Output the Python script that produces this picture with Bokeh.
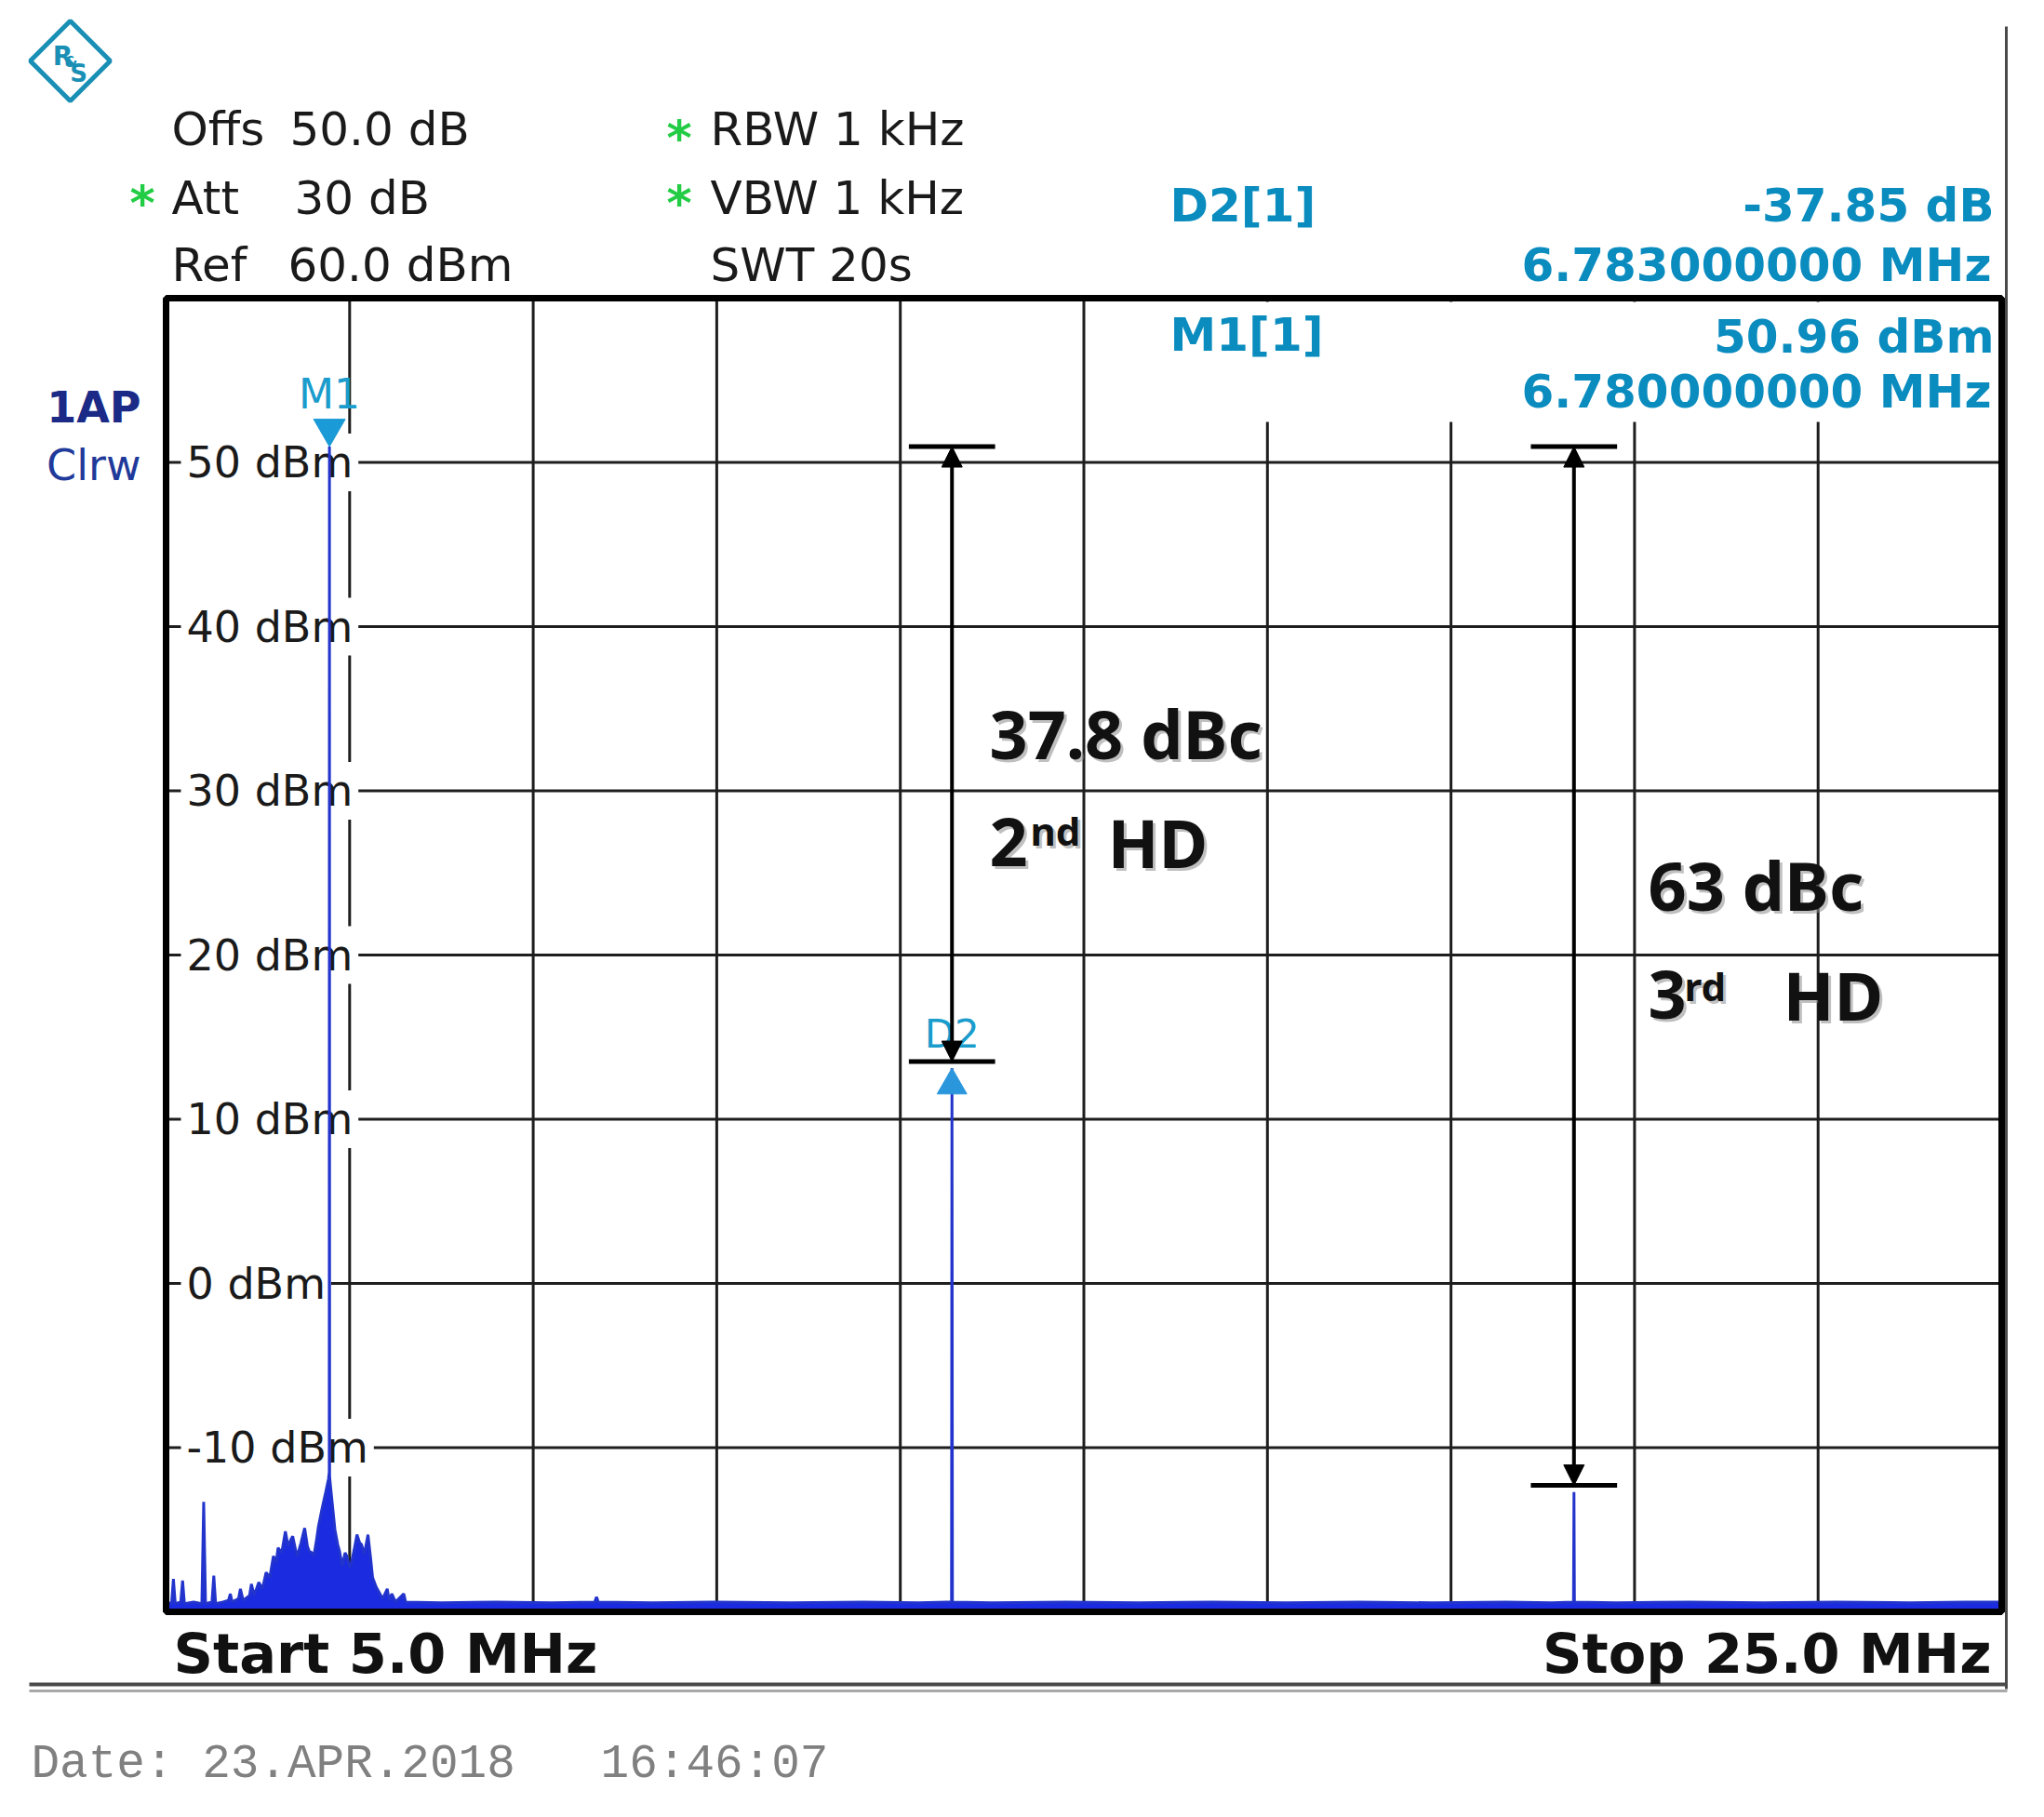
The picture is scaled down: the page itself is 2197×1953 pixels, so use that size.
import numpy as np
from bokeh.plotting import figure
from bokeh.models import Range1d, Arrow, NormalHead
from bokeh.core.properties import value
from bokeh.embed import file_html
from bokeh.resources import INLINE

# ---------------- data ----------------
trace_freq_mhz = [
    5.00, 5.06, 5.08, 5.10, 5.16, 5.18, 5.20, 5.30, 5.39, 5.41,
    5.43, 5.50, 5.52, 5.54, 5.62, 5.68, 5.70, 5.72, 5.79, 5.81,
    5.84, 5.91, 5.93, 5.96, 6.01, 6.05, 6.09, 6.13, 6.17, 6.20,
    6.22, 6.26, 6.30, 6.33, 6.36, 6.38, 6.41, 6.43, 6.47, 6.51,
    6.54, 6.56, 6.59, 6.61, 6.64, 6.66, 6.70, 6.74, 6.77, 6.778,
    6.780, 6.782, 6.80, 6.84, 6.87, 6.89, 6.92, 6.95, 6.97, 7.00,
    7.02, 7.05, 7.08, 7.11, 7.13, 7.16, 7.20, 7.23, 7.25, 7.29,
    7.33, 7.36, 7.41, 7.43, 7.46, 7.50, 7.59, 7.61, 8.00, 8.60,
    9.20, 9.67, 9.69, 9.71, 10.30, 11.00, 11.80, 12.60, 13.20, 13.558,
    13.563, 13.568, 14.00, 14.80, 15.60, 16.40, 17.20, 18.00, 18.80, 19.60,
    20.10, 20.335, 20.340, 20.345, 20.80, 21.60, 22.40, 23.20, 24.00, 24.60,
    25.00,
]
trace_level_dbm = [
    -19.4, -19.5, -18.0, -19.5, -19.4, -18.1, -19.5, -19.4, -19.5, -13.3,
    -19.5, -19.4, -17.8, -19.5, -19.4, -19.3, -18.9, -19.4, -19.2, -18.6,
    -19.3, -19.0, -18.3, -19.0, -18.2, -18.6, -17.6, -17.9, -16.6, -17.0,
    -16.1, -16.4, -15.1, -16.0, -15.6, -15.4, -16.2, -16.6, -15.8, -14.9,
    -16.0, -16.3, -16.4, -16.6, -15.6, -14.8, -13.7, -12.7, -11.9, -11.5,
    50.96, -11.8, -12.8, -15.0, -15.9, -16.3, -17.2, -16.4, -16.6, -17.3,
    -17.0, -16.2, -15.3, -15.8, -15.9, -16.5, -15.3, -16.8, -17.9, -18.5,
    -18.9, -19.2, -18.6, -19.3, -18.9, -19.4, -18.9, -19.4, -19.45, -19.4,
    -19.45, -19.4, -19.1, -19.4, -19.45, -19.4, -19.45, -19.4, -19.45, -19.4,
    13.11, -19.4, -19.45, -19.4, -19.45, -19.4, -19.45, -19.4, -19.45, -19.4,
    -19.45, -19.4, -12.7, -19.4, -19.45, -19.4, -19.45, -19.4, -19.45, -19.4,
    -19.4,
]
y_tick_values = [50, 40, 30, 20, 10, 0, -10]
y_tick_labels = ["50 dBm", "40 dBm", "30 dBm", "20 dBm", "10 dBm", "0 dBm", "-10 dBm"]
x_grid_mhz = [7, 9, 11, 13, 15, 17, 19, 21, 23]

start_mhz, stop_mhz = 5.0, 25.0
ref_level_dbm, bottom_level_dbm = 60.0, -20.0

m1_freq_mhz, m1_level_dbm = 6.78, 50.96
d2_delta_freq_mhz, d2_delta_db = 6.783, -37.85
hd3_freq_mhz, hd3_level_dbm = 20.34, -12.7
hd_labels = ["37.8 dBc", "63 dBc"]
hd_names = [("2", "nd"), ("3", "rd")]

header_left = [("Offs", "50.0 dB"), ("Att", "30 dB"), ("Ref", "60.0 dBm")]
header_mid = ["RBW 1 kHz", "VBW 1 kHz", "SWT 20s"]
date_text = "Date: 23.APR.2018\u00a0\u00a0\u00a016:46:07"

# ---------------- layout (screenshot pixels) ----------------
W, H = 2181, 1937
FL, FR, FT, FB = 178, 2151, 320, 1732

p = figure(width=W, height=H,
           x_range=Range1d(0, W), y_range=Range1d(H, 0),
           x_axis_location=None, y_axis_location=None,
           toolbar_location=None, output_backend="svg",
           min_border=0, outline_line_color=None,
           background_fill_color="white", border_fill_color="white")
p.grid.visible = False

sx = (stop_mhz - start_mhz) / (FR - FL)
sy = (ref_level_dbm - bottom_level_dbm) / (FB - FT)
p.extra_x_ranges = {"f": Range1d(start_mhz - FL * sx, stop_mhz + (W - FR) * sx)}
p.extra_y_ranges = {"d": Range1d(bottom_level_dbm - (H - FB) * sy, ref_level_dbm + FT * sy)}
D = dict(x_range_name="f", y_range_name="d")


def T(x, y, s, size, color="#1a1a1a", font="DejaVu Sans", style="normal",
      align="left", alpha=1.0, **kw):
    p.text(x=[x], y=[y], text=[s], text_font=value(font),
           text_font_size=f"{size}px", text_font_style=style,
           text_color=color, text_align=align, text_baseline="middle",
           text_alpha=alpha, **kw)


# outer screenshot frame lines
p.segment(x0=[2156], y0=[28], x1=[2156], y1=[1815], line_color="#4a4a4a", line_width=3)
p.segment(x0=[31], y0=[1810], x1=[2157], y1=[1810], line_color="#4a4a4a", line_width=4)
p.segment(x0=[31], y0=[1817], x1=[2157], y1=[1817], line_color="#a8a8a8", line_width=3)

# grid
p.segment(x0=x_grid_mhz, y0=[bottom_level_dbm] * len(x_grid_mhz),
          x1=x_grid_mhz, y1=[ref_level_dbm] * len(x_grid_mhz),
          line_color="#1e1e1e", line_width=3, **D)
p.segment(x0=[start_mhz] * len(y_tick_values), y0=y_tick_values,
          x1=[stop_mhz] * len(y_tick_values), y1=y_tick_values,
          line_color="#1e1e1e", line_width=3, **D)

# white backgrounds for tick labels and marker table
cw = {**{c: 0.636 for c in "0123456789"}, " ": 0.318, "d": 0.635, "B": 0.686,
      "m": 0.974, "-": 0.361}
TICK_FS = 46
label_w = [sum(cw[c] for c in s) * TICK_FS for s in y_tick_labels]
p.rect(x=[194 + (w + 12) / 2 for w in label_w], y=y_tick_values,
       width=[w + 12 for w in label_w], height=62, height_units="screen",
       fill_color="white", line_color=None, y_range_name="d")
p.quad(left=[1190], right=[2147], top=[324], bottom=[453],
       fill_color="white", line_color=None)

p.text(x=[200] * len(y_tick_values), y=y_tick_values, text=y_tick_labels,
       text_font=value("DejaVu Sans"), text_font_size=f"{TICK_FS}px",
       text_color="#1a1a1a", text_baseline="middle",
       y_range_name="d")

# spectrum trace
p.varea(x=trace_freq_mhz, y1=[bottom_level_dbm] * len(trace_freq_mhz),
        y2=trace_level_dbm, fill_color="#1a2be0", **D)
p.line(x=trace_freq_mhz, y=trace_level_dbm, line_color="#2234cc",
       line_width=3, **D)

# diagram frame
p.quad(left=[start_mhz], right=[stop_mhz], bottom=[bottom_level_dbm],
       top=[ref_level_dbm], fill_color=None, line_color="black",
       line_width=7, **D)

# harmonic distance annotations
d2_freq = m1_freq_mhz + d2_delta_freq_mhz
d2_level = m1_level_dbm + d2_delta_db
BAR_GAP = 0.4
for f, lvl in [(d2_freq, d2_level), (hd3_freq_mhz, hd3_level_dbm)]:
    p.segment(x0=[f - 0.47, f - 0.47], x1=[f + 0.47, f + 0.47],
              y0=[m1_level_dbm, lvl + BAR_GAP], y1=[m1_level_dbm, lvl + BAR_GAP],
              line_color="black", line_width=5, **D)
    p.add_layout(Arrow(x_start=f, y_start=m1_level_dbm, x_end=f, y_end=lvl + BAR_GAP,
                       start=NormalHead(size=22, fill_color="black", line_color="black"),
                       end=NormalHead(size=22, fill_color="black", line_color="black"),
                       line_color="black", line_width=4, **D))

# markers
M1_SIZE, D2_SIZE = 34, 32
p.scatter(x=[m1_freq_mhz], y=[m1_level_dbm + M1_SIZE / np.sqrt(3) * sy],
          marker="inverted_triangle", size=M1_SIZE, fill_color="#1a9ad6",
          line_color="#1a9ad6", **D)
p.scatter(x=[d2_freq], y=[d2_level - D2_SIZE / np.sqrt(3) * sy],
          marker="triangle", size=D2_SIZE, fill_color="#2a96dc",
          line_color="#2a96dc", **D)
T(m1_freq_mhz, 423, "M1", 44, color="#1a9ccc", align="center", x_range_name="f")
T(d2_freq, 1111, "D2", 42, color="#1a9ccc", align="center", x_range_name="f")


# big annotation texts (with soft shadow)
def BIG(x, y, s, size=72):
    T(x + 3, y + 3, s, size, color="#8c8c8c", font="Noto Sans", style="bold", alpha=0.55)
    T(x, y, s, size, color="#111111", font="Noto Sans", style="bold")


BIG(1063, 787, hd_labels[0])
BIG(1063, 904, hd_names[0][0])
BIG(1107, 892, hd_names[0][1], 42)
BIG(1190, 904, "HD")
BIG(1771, 950, hd_labels[1])
BIG(1771, 1068, hd_names[1][0])
BIG(1810, 1059, hd_names[1][1], 42)
BIG(1916, 1068, "HD")

# header
for (lab, val), yc, vx in zip(header_left, [138, 212, 284], [311, 316, 309]):
    T(184, yc, lab, 50)
    T(vx, yc, val, 50)
for s, yc in zip(header_mid, [138, 212, 284]):
    T(763, yc, s, 50)
GREEN = "#22cc44"
T(139, 217, "*", 52, color=GREEN, style="bold")
T(716, 147, "*", 52, color=GREEN, style="bold")
T(716, 217, "*", 52, color=GREEN, style="bold")

CYAN = "#0a8cbf"
CFS = 50
T(1257, 220, "D2[1]", CFS, color=CYAN, style="bold")
T(2143, 220, f"{d2_delta_db:.2f} dB", CFS, color=CYAN, style="bold", align="right")
T(2140, 284, f"{d2_delta_freq_mhz:.9f} MHz", CFS, color=CYAN, style="bold", align="right")
T(1257, 359, "M1[1]", CFS, color=CYAN, style="bold")
T(2143, 361, f"{m1_level_dbm:.2f} dBm", CFS, color=CYAN, style="bold", align="right")
T(2140, 420, f"{m1_freq_mhz:.9f} MHz", CFS, color=CYAN, style="bold", align="right")

T(151, 437, "1AP", 46, color="#1a2a86", align="right", style="bold")
T(151, 499, "Clrw", 46, color="#1f3a9a", align="right")

T(186, 1777, f"Start {start_mhz:.1f} MHz", 59, style="bold", color="#111111")
T(2140, 1777, f"Stop {stop_mhz:.1f} MHz", 59, style="bold", color="#111111", align="right")
T(33, 1896, date_text, 51, font="Liberation Mono", color="#808080")

# R&S logo
p.patch(x=[75, 118, 75, 32], y=[22, 65, 108, 65], fill_color=None,
        line_color="#1a8fb5", line_width=5)
T(67, 60, "R", 28, color="#1a8fb5", style="bold", align="center")
T(76, 66, "&", 16, color="#1a8fb5", style="bold", align="center")
T(84, 78, "S", 26, color="#1a8fb5", style="bold", align="center")

open("out.html", "w").write(file_html(p, INLINE))
